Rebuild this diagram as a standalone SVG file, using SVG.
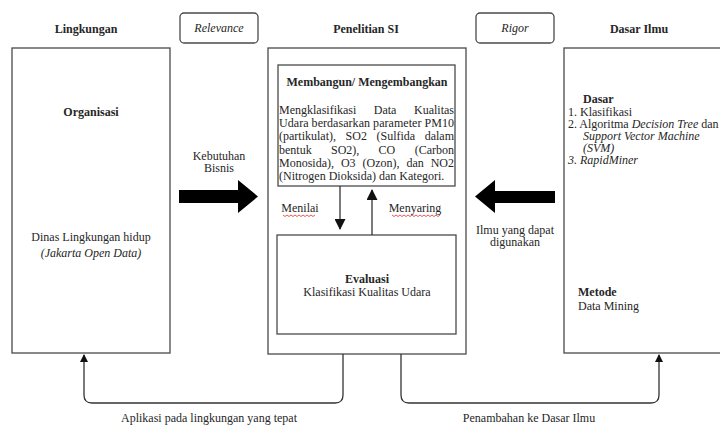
<svg xmlns="http://www.w3.org/2000/svg" width="720" height="426" viewBox="0 0 720 426">
<defs>
<style>
text{font-family:'Liberation Serif','Times New Roman','DejaVu Serif',serif;font-size:12px;fill:#262626}
.b{font-weight:bold}
.i{font-style:italic}
.m{text-anchor:middle}
.e{text-anchor:end}
.box{fill:#fff;stroke:#4a4a4a;stroke-width:1.3}
.tag{fill:#fff;stroke:#4a4a4a;stroke-width:1.3}
.ln{fill:none;stroke:#333;stroke-width:1.3}
.big{fill:#000}
.sq{fill:none;stroke:#e03030;stroke-width:0.8}
</style>
<marker id="ah" markerWidth="8" markerHeight="8" refX="7" refY="4" orient="auto" markerUnits="userSpaceOnUse">
<path d="M0,0 L8,4 L0,8 Z" fill="#111"/>
</marker>
<marker id="ah2" markerWidth="11" markerHeight="11" refX="10" refY="5.5" orient="auto" markerUnits="userSpaceOnUse">
<path d="M0,0 L11,5.5 L0,11 Z" fill="#111"/>
</marker>
</defs>
<rect width="720" height="426" fill="#fff"/>
<g font-family="Liberation Serif, Times New Roman, DejaVu Serif, serif">

<g id="headers">
<text class="b m" x="86" y="33">Lingkungan</text>
<text class="b m" x="366" y="33">Penelitian SI</text>
<text class="b m" x="639" y="33">Dasar Ilmu</text>
</g>

<g id="relevance">
<rect class="tag" x="180" y="13" width="78" height="30" rx="4"/>
<text class="i m" x="219" y="32">Relevance</text>
</g>
<g id="rigor">
<rect class="tag" x="476" y="13" width="78" height="30" rx="4"/>
<text class="i m" x="515" y="32">Rigor</text>
</g>

<g id="lingkungan">
<rect class="box" x="12" y="48" width="158" height="305"/>
<text class="b m" x="91" y="116">Organisasi</text>
<text class="m" x="91" y="241">Dinas Lingkungan hidup</text>
<text class="i m" x="91" y="257">(Jakarta Open Data)</text>
</g>

<g id="penelitian">
<rect class="box" x="268" y="48" width="198" height="306"/>
</g>

<g id="membangun">
<rect class="box" x="278" y="65" width="177" height="121"/>
<text class="b m" x="367" y="86">Membangun/ Mengembangkan</text>
<text x="279" y="114">Mengklasifikasi</text>
<text x="373.8" y="114">Data</text>
<text class="e" x="454" y="114">Kualitas</text>
<text x="279" y="127.2" textLength="175" lengthAdjust="spacing">Udara berdasarkan parameter PM10</text>
<text x="279" y="140.4">(partikulat),</text>
<text x="345.6" y="140.4">SO2</text>
<text x="376.5" y="140.4">(Sulfida</text>
<text class="e" x="454" y="140.4">dalam</text>
<text x="279" y="153.6">bentuk</text>
<text x="331" y="153.6">SO2),</text>
<text x="378.6" y="153.6">CO</text>
<text class="e" x="454" y="153.6">(Carbon</text>
<text x="279" y="166.8">Monosida),</text>
<text x="340.9" y="166.8">O3</text>
<text x="362.5" y="166.8">(Ozon),</text>
<text x="406.4" y="166.8">dan</text>
<text class="e" x="454" y="166.8">NO2</text>
<text x="279" y="180">(Nitrogen Dioksida) dan Kategori.</text>
</g>

<g id="evaluasi">
<rect class="box" x="277" y="235" width="179" height="99"/>
<text class="b m" x="367" y="283">Evaluasi</text>
<text class="m" x="367" y="296">Klasifikasi Kualitas Udara</text>
</g>

<g id="dasar">
<rect class="box" x="564" y="48" width="180" height="305"/>
<text class="b" x="583" y="103">Dasar</text>
<text x="568" y="116">1. Klasifikasi</text>
<text x="568" y="128">2. Algoritma <tspan class="i">Decision Tree</tspan> dan</text>
<text class="i" x="583" y="140">Support Vector Machine</text>
<text class="i" x="583" y="152">(SVM)</text>
<text class="i" x="568" y="164">3. RapidMiner</text>
<text class="b" x="578" y="296">Metode</text>
<text x="578" y="310">Data Mining</text>
</g>

<g id="connectors">
<path class="big" d="M179,190 H238 V180 L258,196.5 L238,213 V203 H179 Z"/>
<path class="big" d="M555,191 H495 V180 L475,196.5 L495,213 V203 H555 Z"/>
<line class="ln" x1="340" y1="186" x2="340" y2="229" marker-end="url(#ah2)"/>
<line class="ln" x1="372" y1="235" x2="372" y2="190" marker-end="url(#ah2)"/>
<path class="ln" d="M343,354 V395 Q343,403 335,403 H92 Q84,403 84,395 V355" marker-end="url(#ah)"/>
<path class="ln" d="M401,354 V395 Q401,403 409,403 H651 Q659,403 659,395 V355" marker-end="url(#ah)"/>
</g>

<g id="labels">
<text class="m" x="219" y="160">Kebutuhan</text>
<text class="m" x="219" y="172">Bisnis</text>
<text class="m" x="515" y="234">Ilmu yang dapat</text>
<text class="m" x="515" y="246">digunakan</text>
<text class="m" x="300" y="212">Menilai</text>
<path class="sq" d="M283,215 l2,1.5 l2,-1.5 l2,1.5 l2,-1.5 l2,1.5 l2,-1.5 l2,1.5 l2,-1.5 l2,1.5 l2,-1.5 l2,1.5 l2,-1.5 l2,1.5 l2,-1.5 l2,1.5 l2,-1.5"/>
<text class="m" x="415" y="212">Menyaring</text>
<path class="sq" d="M392,215 l2,1.5 l2,-1.5 l2,1.5 l2,-1.5 l2,1.5 l2,-1.5 l2,1.5 l2,-1.5 l2,1.5 l2,-1.5 l2,1.5 l2,-1.5 l2,1.5 l2,-1.5 l2,1.5 l2,-1.5 l2,1.5 l2,-1.5 l2,1.5 l2,-1.5 l2,1.5 l2,-1.5 l2,1.5 l2,-1.5"/>
<text class="m" x="209" y="422">Aplikasi pada lingkungan yang tepat</text>
<text class="m" x="529" y="422">Penambahan ke Dasar Ilmu</text>
</g>
</g>
</svg>
